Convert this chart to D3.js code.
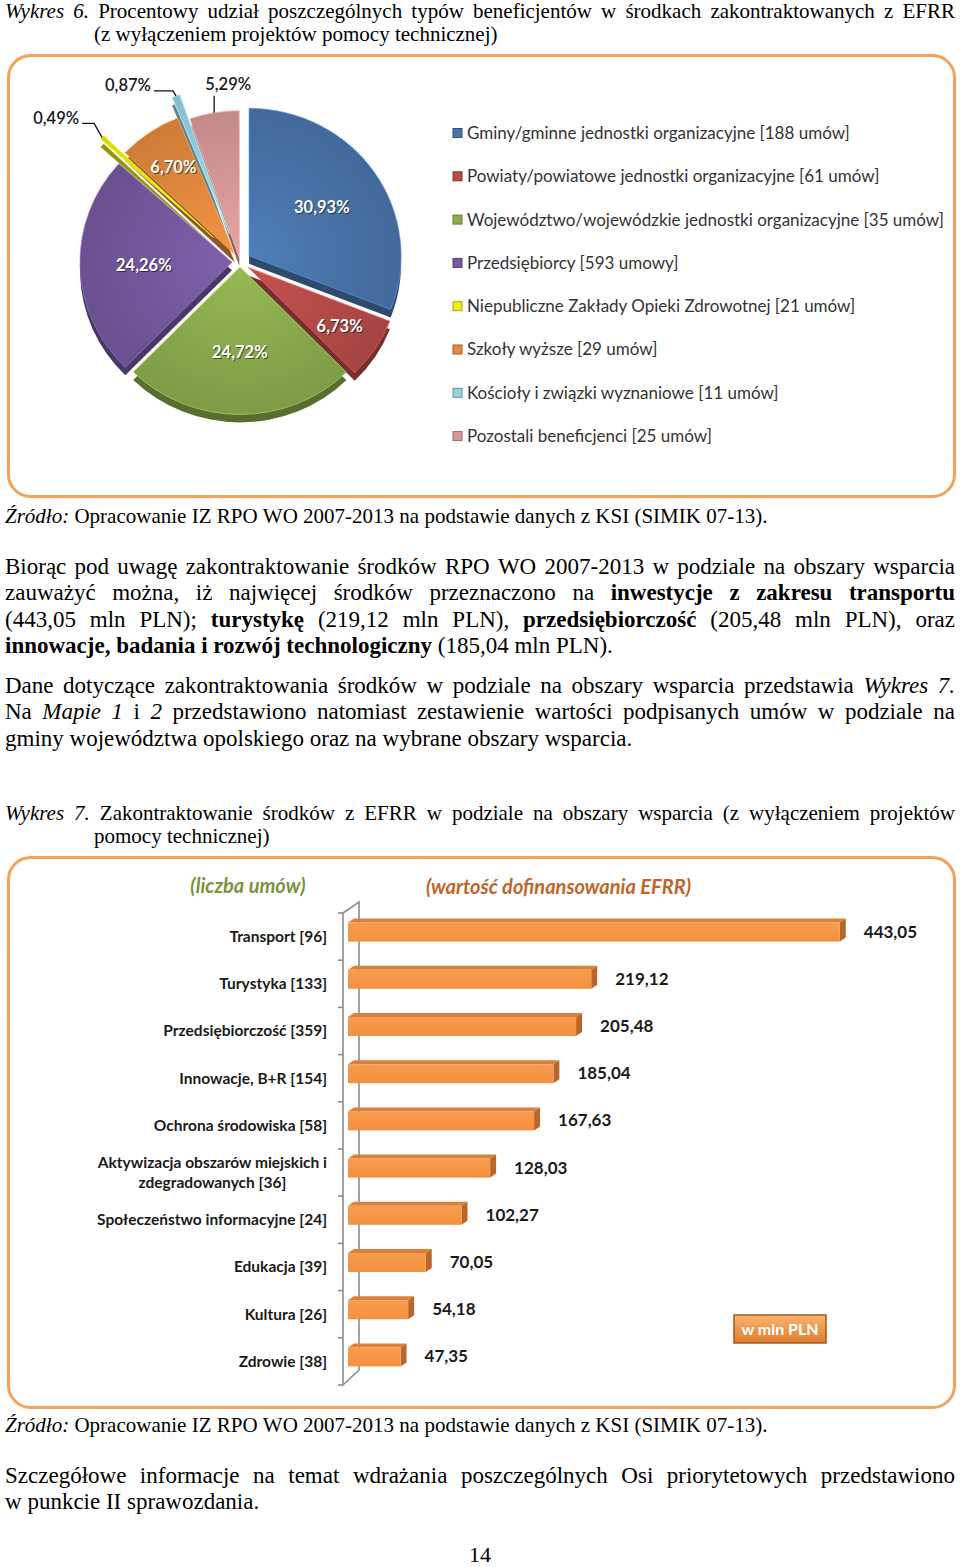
<!DOCTYPE html>
<html><head><meta charset="utf-8">
<script src="https://cdn.jsdelivr.net/npm/d3@7"></script>
<style>body{margin:0;background:#fff} svg{display:block}</style>
</head><body><svg id="page" width="960" height="1567"></svg>
<script>
// ---------------- DATA ----------------
const pieCategories = [
  "Gminy/gminne jednostki organizacyjne [188 umów]",
  "Powiaty/powiatowe jednostki organizacyjne [61 umów]",
  "Województwo/wojewódzkie jednostki organizacyjne [35 umów]",
  "Przedsiębiorcy [593 umowy]",
  "Niepubliczne Zakłady Opieki Zdrowotnej [21 umów]",
  "Szkoły wyższe [29 umów]",
  "Kościoły i związki wyznaniowe [11 umów]",
  "Pozostali beneficjenci [25 umów]"
];
const pieShares = [30.93, 6.73, 24.72, 24.26, 0.49, 6.70, 0.87, 5.29];
const pieColors = ["#4a75ab", "#b84c49", "#8cad4e", "#76599f", "#eeee10", "#e48a3e", "#98d1e4", "#d89a98"];
const pieExplode = [11, 10, 5, 8, 36, 9, 30, 4];

const barCategories = [
  "Transport [96]", "Turystyka [133]", "Przedsiębiorczość [359]", "Innowacje, B+R [154]",
  "Ochrona środowiska [58]", "Aktywizacja obszarów miejskich i\nzdegradowanych [36]",
  "Społeczeństwo informacyjne [24]", "Edukacja [39]", "Kultura [26]", "Zdrowie [38]"
];
const barValues = [443.05, 219.12, 205.48, 185.04, 167.63, 128.03, 102.27, 70.05, 54.18, 47.35];

const fmt = v => v.toFixed(2).replace(".", ",");

// ---------------- SETUP ----------------
const svg = d3.select("#page");
const defs = svg.append("defs");
const SERIF = "'Liberation Serif', 'Times New Roman', serif";
const SANS = "Lato, 'Open Sans', sans-serif";

// ---------------- TEXT HELPERS ----------------
function toWords(segs) {
  const words = [[]];
  segs.forEach(([txt, st]) => {
    txt.split(" ").forEach((p, k) => {
      if (k > 0) words.push([]);
      if (p) words[words.length - 1].push([p, st]);
    });
  });
  return words.filter(w => w.length);
}
function drawLine(segs, x0, x1, y, justify, size) {
  size = size || 21;
  const g = svg.append("g").attr("font-family", SERIF).attr("font-size", size).attr("fill", "#000");
  const words = toWords(segs);
  const nodes = words.map(w => {
    const t = g.append("text").attr("y", y);
    w.forEach(([s, st]) => t.append("tspan").text(s)
      .attr("font-style", st.includes("i") ? "italic" : null)
      .attr("font-weight", st.includes("b") ? "bold" : null));
    return t;
  });
  const widths = nodes.map(n => n.node().getComputedTextLength());
  const gap = justify && nodes.length > 1 ? (x1 - x0 - d3.sum(widths)) / (nodes.length - 1) : size * 0.25;
  let x = x0;
  nodes.forEach((n, i) => { n.attr("x", x); x += widths[i] + gap; });
}

// ---------------- PAGE TEXT ----------------
drawLine([["Wykres 6.", "i"], [" Procentowy udział poszczególnych typów beneficjentów w środkach zakontraktowanych z EFRR", ""]], 5, 955, 18, true);
drawLine([["(z wyłączeniem projektów pomocy technicznej)", ""]], 94, 955, 41, false);

drawLine([["Źródło:", "i"], [" Opracowanie IZ RPO WO 2007-2013  na podstawie danych z KSI (SIMIK 07-13).", ""]], 5, 955, 523, false);

const P = 23;
drawLine([["Biorąc pod uwagę zakontraktowanie środków RPO WO 2007-2013 w podziale na obszary wsparcia", ""]], 5, 955, 574, true, P);
drawLine([["zauważyć można, iż najwięcej środków przeznaczono na ", ""], ["inwestycje z zakresu transportu", "b"]], 5, 955, 600, true, P);
drawLine([["(443,05 mln PLN); ", ""], ["turystykę", "b"], [" (219,12 mln PLN), ", ""], ["przedsiębiorczość", "b"], [" (205,48 mln PLN), oraz", ""]], 5, 955, 627, true, P);
drawLine([["innowacje, badania i rozwój technologiczny", "b"], [" (185,04 mln PLN).", ""]], 5, 955, 653, false, P);

drawLine([["Dane dotyczące zakontraktowania środków w podziale na obszary wsparcia przedstawia ", ""], ["Wykres 7.", "i"]], 5, 955, 693, true, P);
drawLine([["Na ", ""], ["Mapie 1", "i"], [" i ", ""], ["2", "i"], [" przedstawiono natomiast zestawienie wartości podpisanych umów w podziale na", ""]], 5, 955, 719, true, P);
drawLine([["gminy województwa opolskiego oraz na wybrane obszary wsparcia.", ""]], 5, 955, 746, false, P);

drawLine([["Wykres 7.", "i"], [" Zakontraktowanie środków z EFRR w podziale na obszary wsparcia (z wyłączeniem projektów", ""]], 5, 955, 820, true);
drawLine([["pomocy technicznej)", ""]], 94, 955, 843, false);

drawLine([["Źródło:", "i"], [" Opracowanie IZ RPO WO 2007-2013  na podstawie danych z KSI (SIMIK 07-13).", ""]], 5, 955, 1432, false);

drawLine([["Szczegółowe informacje na temat wdrażania poszczególnych Osi priorytetowych przedstawiono", ""]], 5, 955, 1483, true, P);
drawLine([["w punkcie II sprawozdania.", ""]], 5, 955, 1509, false, P);

svg.append("text").attr("x", 480).attr("y", 1562).attr("text-anchor", "middle")
  .attr("font-family", SERIF).attr("font-size", 22).text("14");

// ---------------- FRAMES ----------------
[[55.5, 441], [857.5, 550]].forEach(([y, h]) => {
  svg.append("rect").attr("x", 8.5).attr("y", y).attr("width", 946).attr("height", h)
    .attr("rx", 22).attr("fill", "none").attr("stroke", "#f4a25a").attr("stroke-width", 3);
});

// ---------------- PIE CHART ----------------
const cx = 240, cy = 262, R = 152, depth = 8, tilt = 0.97;
const pieData = d3.pie().sort(null).value(d => d)(pieShares);
const arc = d3.arc().innerRadius(0).outerRadius(R);
const off = pieData.map((d, i) => {
  const m = (d.startAngle + d.endAngle) / 2;
  return [Math.sin(m) * pieExplode[i], -Math.cos(m) * pieExplode[i], m];
});
pieColors.forEach((c, i) => {
  const gr = defs.append("radialGradient").attr("id", "pg" + i)
    .attr("gradientUnits", "userSpaceOnUse").attr("cx", 0).attr("cy", 0).attr("r", R);
  gr.append("stop").attr("offset", "0%").attr("stop-color", d3.color(c).brighter(0.2));
  gr.append("stop").attr("offset", "100%").attr("stop-color", d3.color(c).darker(0.3));
});
const pieG = svg.append("g");
// sides (extrusion)
pieData.forEach((d, i) => {
  pieG.append("g").attr("transform", `translate(${cx + off[i][0]},${cy + off[i][1] + depth}) scale(1,${tilt})`)
    .append("path").attr("d", arc(d)).attr("fill", d3.color(pieColors[i]).darker(1.3));
});
// tops
pieData.forEach((d, i) => {
  pieG.append("g").attr("transform", `translate(${cx + off[i][0]},${cy + off[i][1]}) scale(1,${tilt})`)
    .append("path").attr("d", arc(d)).attr("fill", `url(#pg${i})`)
    .attr("stroke", d3.color(pieColors[i]).brighter(0.7)).attr("stroke-width", 1).attr("stroke-opacity", 0.7);
});
// inside labels
pieData.forEach((d, i) => {
  if (pieShares[i] < 6) return;
  const lr = R * (pieShares[i] > 20 ? 0.58 : 0.72);
  const [px, py] = d3.arc().innerRadius(lr).outerRadius(lr).centroid(d);
  const x = cx + off[i][0] + px, y = cy + off[i][1] + py * tilt;
  [["rgba(0,0,0,0.55)", 1], ["#fff", 0]].forEach(([col, o]) => {
    pieG.append("text").attr("x", x + o).attr("y", y + o).attr("dy", "0.35em")
      .attr("text-anchor", "middle").attr("font-family", SANS).attr("font-weight", "bold")
      .attr("font-size", 16.5).attr("fill", col).text(fmt(pieShares[i]) + "%");
  });
});
// outside labels with leader lines
const leaders = {
  4: { pts: [[-8, -14], [-20, -14]], lab: [-23, 1], anchor: "end" },
  6: { pts: [[-3, -5], [-22, -5]], lab: [-25, 0], anchor: "end" },
  7: { pts: [[0, -17]], lab: [14, -23], anchor: "middle" }
};
Object.keys(leaders).forEach(k => {
  const i = +k, L = leaders[k], m = off[i][2];
  const p = [cx + off[i][0] + Math.sin(m) * R, cy + off[i][1] - Math.cos(m) * R * tilt];
  const pts = [p].concat(L.pts.map(q => [p[0] + q[0], p[1] + q[1]]));
  pieG.append("path").attr("d", d3.line()(pts)).attr("fill", "none").attr("stroke", "#111").attr("stroke-width", 1.3);
  const last = pts[pts.length - 1];
  const lx = p[0] + L.lab[0];
  const ly = i === 7 ? p[1] + L.lab[1] : last[1] + L.lab[1];
  pieG.append("text").attr("x", lx).attr("y", ly).attr("text-anchor", L.anchor)
    .attr("font-family", SANS).attr("font-weight", 600).attr("font-size", 16.5).attr("fill", "#1a1a1a")
    .text(fmt(pieShares[i]) + "%");
});

// legend
const legG = svg.append("g").attr("font-family", SANS).attr("font-size", 17).attr("fill", "#333");
pieCategories.forEach((c, i) => {
  const y = 133 + i * 43.3;
  legG.append("rect").attr("x", 453).attr("y", y - 4.5).attr("width", 9).attr("height", 9)
    .attr("fill", pieColors[i]).attr("stroke", d3.color(pieColors[i]).darker(1)).attr("stroke-width", 1);
  legG.append("text").attr("x", 467).attr("y", y).attr("dy", "0.35em").text(c);
});

// ---------------- BAR CHART ----------------
const x = d3.scaleLinear().domain([0, 500]).range([348, 903]);
const y = d3.scaleBand().domain(barCategories).range([913, 1385]);
const bc = c => y(c) + y.bandwidth() / 2;
const barG = svg.append("g");

// headers
barG.append("text").attr("x", 248).attr("y", 893).attr("text-anchor", "middle")
  .attr("font-family", SANS).attr("font-style", "italic").attr("font-weight", "bold")
  .attr("font-size", 20).attr("fill", "#77933c").text("(liczba umów)");
barG.append("text").attr("x", 426).attr("y", 894)
  .attr("font-family", SANS).attr("font-style", "italic").attr("font-weight", "bold")
  .attr("font-size", 20).attr("fill", "#c0652a").text("(wartość dofinansowania EFRR)");

// 3D axis wall
const y0 = y.range()[0], y1 = y.range()[1];
const ax = 343, bx = 359, back = 11, backB = 15;
barG.append("path").attr("fill", "none").attr("stroke", "#8c8c8c").attr("stroke-width", 1.6)
  .attr("d", `M${ax},${y0}V${y1}L${bx},${y1 - backB}V${y0 - back}L${ax},${y0}`);
barG.selectAll(".tick").data(barCategories.map(c => y(c)).concat([y1])).join("line")
  .attr("x1", ax - 5).attr("x2", ax).attr("y1", d => d).attr("y2", d => d)
  .attr("stroke", "#8c8c8c").attr("stroke-width", 1.6);

// bar gradient
const fg = defs.append("linearGradient").attr("id", "barFront").attr("x1", 0).attr("y1", 0).attr("x2", 0).attr("y2", 1);
fg.append("stop").attr("offset", "0%").attr("stop-color", "#f99c4e");
fg.append("stop").attr("offset", "100%").attr("stop-color", "#f3903f");

const dx = 6, dy = 4;
barCategories.forEach((c, i) => {
  const yc = bc(c), xa = x(0), xb = x(barValues[i]);
  const top = yc - 14, bot = yc + 5;
  barG.append("path").attr("fill", "#d9803a")
    .attr("d", `M${xa},${top}L${xa + dx},${top - dy}H${xb + dx}L${xb},${top}Z`);
  barG.append("path").attr("fill", "#b8672b")
    .attr("d", `M${xb},${top}L${xb + dx},${top - dy}V${bot - dy}L${xb},${bot}Z`);
  barG.append("rect").attr("x", xa).attr("y", top).attr("width", xb - xa).attr("height", bot - top)
    .attr("fill", "url(#barFront)");
  barG.append("text").attr("x", xb + 24).attr("y", yc - 5).attr("dy", "0.35em")
    .attr("font-family", SANS).attr("font-weight", "bold").attr("font-size", 17).attr("fill", "#1a1a1a")
    .text(fmt(barValues[i]));
});

// category labels
barCategories.forEach(c => {
  const lines = c.split("\n"), yc = bc(c);
  const t = barG.append("g").attr("font-family", SANS).attr("font-weight", "bold")
    .attr("font-size", 15.5).attr("fill", "#1a1a1a");
  if (lines.length === 1) {
    t.append("text").attr("x", 327).attr("y", yc).attr("dy", "0.35em").attr("text-anchor", "end").text(c);
  } else {
    const first = t.append("text").attr("x", 327).attr("y", yc - 10).attr("dy", "0.35em")
      .attr("text-anchor", "end").text(lines[0]);
    const w = first.node().getComputedTextLength();
    t.append("text").attr("x", 327 - w / 2).attr("y", yc + 10).attr("dy", "0.35em")
      .attr("text-anchor", "middle").text(lines[1]);
  }
});

// "w mln PLN" badge
const ug = defs.append("linearGradient").attr("id", "unitG").attr("x1", 0).attr("y1", 0).attr("x2", 0).attr("y2", 1);
ug.append("stop").attr("offset", "0%").attr("stop-color", "#fbb46e");
ug.append("stop").attr("offset", "100%").attr("stop-color", "#de7e2f");
barG.append("rect").attr("x", 734).attr("y", 1315).attr("width", 92).attr("height", 28)
  .attr("fill", "url(#unitG)").attr("stroke", "#a9581c").attr("stroke-width", 1.5);
barG.append("text").attr("x", 780).attr("y", 1329).attr("dy", "0.35em").attr("text-anchor", "middle")
  .attr("font-family", SANS).attr("font-weight", "bold").attr("font-size", 16).attr("fill", "#fff")
  .text("w mln PLN");
</script>
</body></html>
